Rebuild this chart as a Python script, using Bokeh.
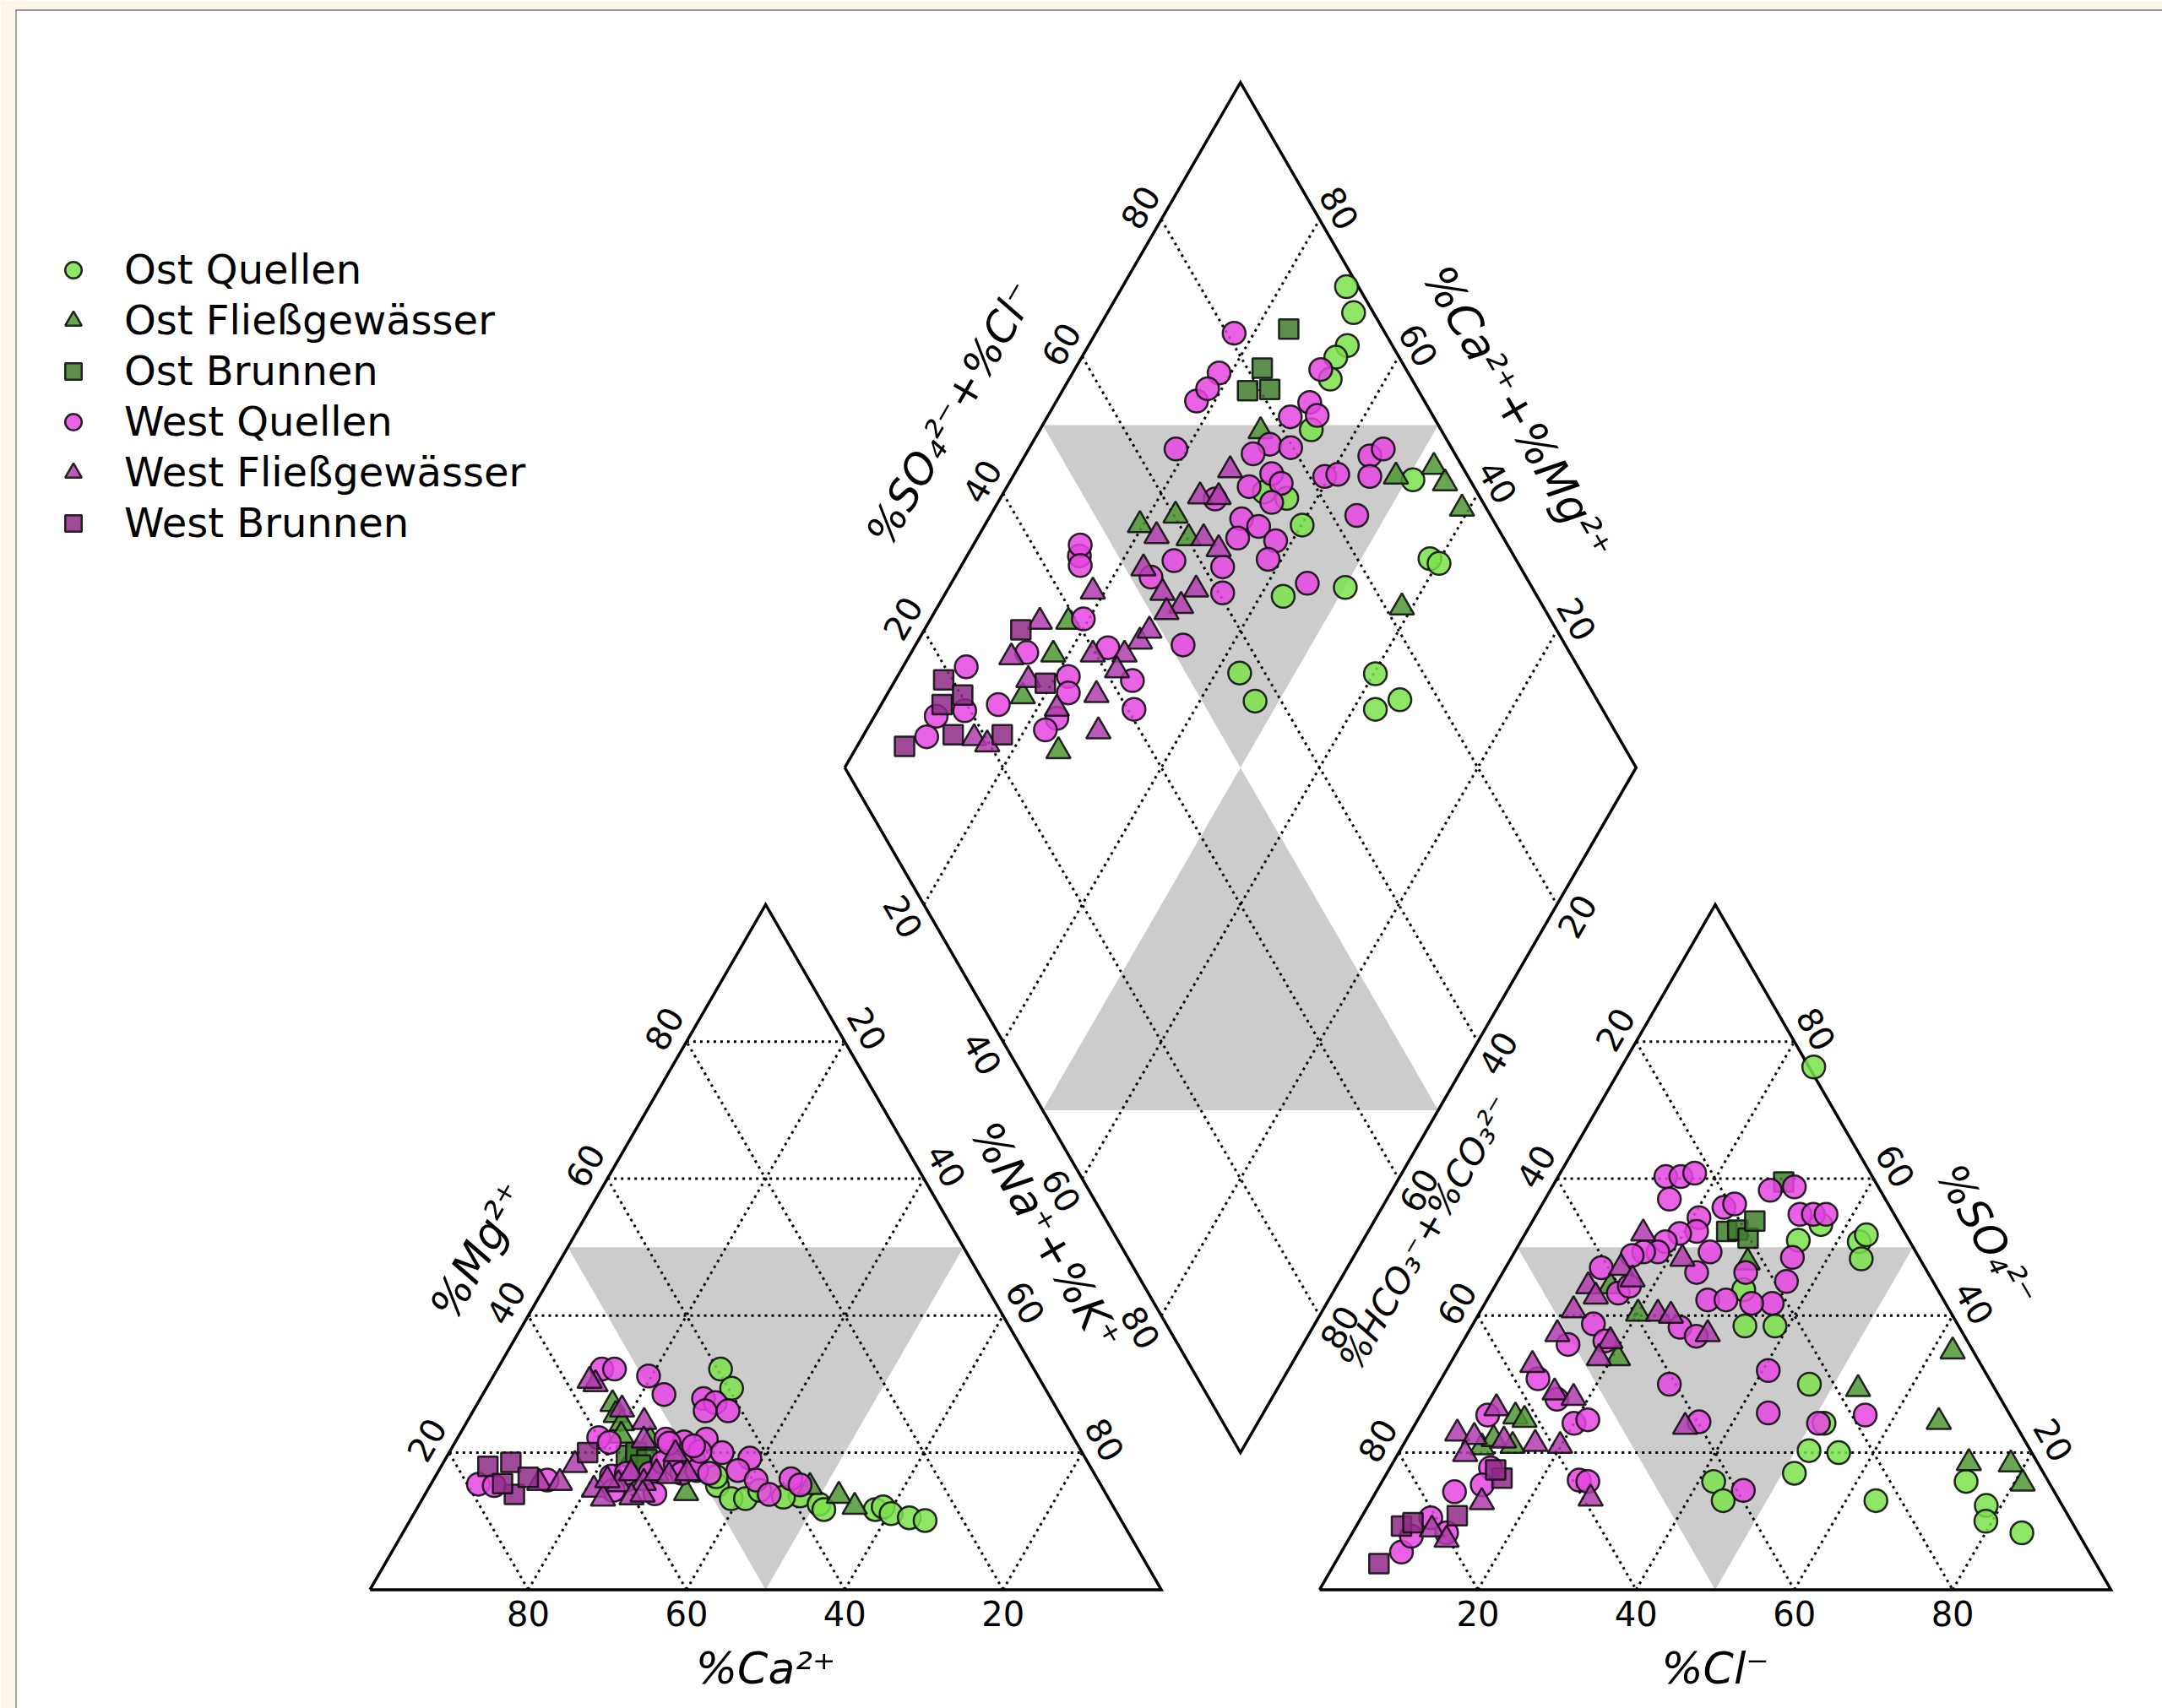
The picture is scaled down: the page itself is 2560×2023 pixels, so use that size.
import numpy as np
from bokeh.plotting import figure
from bokeh.models import Range1d, Legend, LegendItem, Span
from bokeh.embed import file_html
from bokeh.resources import INLINE
from bokeh.core.properties import value

# ---------------------------------------------------------------- data
tick_values = [20, 40, 60, 80]
group_names = ["Ost Quellen", "Ost Fließgewässer", "Ost Brunnen",
               "West Quellen", "West Fließgewässer", "West Brunnen"]

# Cation triangle: %Ca2+, %Mg2+
cat_ca_ost_quellen = [39.6, 39.6, 48.5, 47.7, 45.9, 38.8, 37.0, 36.8, 30.3, 29.1, 28.6, 26.6, 24.8, 43.5, 41.0, 48.0]
cat_mg_ost_quellen = [32.2, 29.4, 15.2, 13.3, 13.3, 13.7, 12.5, 11.7, 11.7, 12.1, 11.1, 10.5, 10.1, 14.5, 13.5, 16.5]
cat_ca_ost_fliess = [55.8, 56.2, 56.0, 57.5, 56.3, 53.7, 53.0, 36.9, 33.9, 32.7, 57.0]
cat_mg_ost_fliess = [27.1, 25.5, 24.3, 19.0, 19.8, 21.8, 14.1, 15.0, 13.7, 12.1, 22.5]
cat_ca_ost_brunnen = [57.8, 56.4, 55.5, 56.7]
cat_mg_ost_brunnen = [19.6, 20.0, 19.0, 18.2]
cat_ca_west_quellen = [78.6, 76.7, 69.6, 54.6, 53.0, 49.2, 48.6, 43.9, 42.7, 44.6, 41.7, 60.0, 51.6, 49.5, 46.5, 45.5,
                       42.4, 44.8, 43.2, 42.6, 38.7, 38.0, 61.2, 59.1, 56.1, 53.7, 52.3, 52.1, 49.6, 50.0, 48.6, 48.2,
                       51.5, 48.6, 59.0, 62.0, 57.0]
cat_mg_west_quellen = [15.4, 15.2, 16.0, 32.2, 32.2, 31.2, 28.5, 27.9, 27.3, 26.1, 26.1, 22.2, 22.0, 21.6, 22.0, 20.0,
                       19.2, 17.4, 16.0, 13.9, 16.2, 15.3, 16.6, 17.0, 17.0, 18.6, 18.2, 17.0, 19.0, 17.4, 17.0, 20.2,
                       21.4, 21.0, 21.5, 14.5, 14.0]
cat_ca_west_fliess = [70.8, 68.2, 65.0, 56.5, 55.0, 53.1, 64.4, 63.9, 60.9, 58.5, 57.6, 55.3, 53.9, 51.5, 51.4, 60.2,
                      58.6, 54.5, 57.0, 62.0]
cat_mg_west_fliess = [15.6, 15.6, 18.2, 30.0, 26.3, 24.5, 14.6, 13.3, 15.4, 17.0, 15.6, 17.0, 16.6, 19.8, 17.0, 13.5,
                      13.9, 21.8, 30.5, 16.0]
cat_ca_west_brunnen = [76.1, 72.9, 74.8, 71.8, 62.5, 75.5]
cat_mg_west_brunnen = [18.0, 18.6, 13.9, 16.4, 20.0, 15.5]

# Anion triangle: %Cl-, %SO4 2-
an_cl_ost_quellen = [24.3, 42.8, 43.2, 44.3, 36.7, 31.7, 34.5, 38.3, 46.9, 51.6, 51.7, 55.6, 51.5, 41.9, 44.5, 63.8,
                     73.8, 78.1, 79.2, 84.6, 35.0]
an_so4_ost_quellen = [76.3, 50.8, 51.8, 48.3, 53.3, 43.8, 38.5, 38.5, 30.0, 24.3, 20.3, 20.0, 17.0, 15.8, 13.0, 13.0,
                      15.8, 12.3, 10.0, 8.3, 51.0]
an_cl_ost_fliess = [14.6, 20.1, 20.8, 12.1, 13.5, 10.1, 13.9, 62.6, 53.4, 66.0, 72.8, 78.2, 81.1, 30.2, 11.0]
an_so4_ost_fliess = [44.3, 40.3, 33.8, 25.3, 24.8, 20.8, 21.0, 34.8, 29.3, 24.5, 18.5, 18.3, 15.5, 47.8, 22.0]
an_cl_ost_brunnen = [25.3, 28.9, 26.6, 28.5, 28.1]
an_so4_ost_brunnen = [52.3, 59.5, 52.5, 51.3, 53.8]
an_cl_west_quellen = [13.6, 15.5, 17.0, 15.7, 23.2, 20.8, 21.5, 24.7, 19.5, 18.3, 18.1, 16.3, 15.1, 24.5, 27.9, 26.4,
                      29.1, 29.2, 35.7, 12.1, 15.2, 17.9, 13.5, 16.1, 17.0, 12.2, 16.1, 20.0, 21.5, 8.5, 12.7, 12.9,
                      9.9, 24.8, 26.0, 8.8, 7.6, 7.7, 11.9, 30.6, 27.8, 33.3, 35.0, 36.6, 35.5, 36.5, 36.3, 33.7,
                      30.2, 40.7, 43.8, 56.2, 50.9, 46.3, 30.7, 24.3]
an_so4_west_quellen = [60.3, 60.3, 60.8, 57.0, 55.8, 54.3, 52.3, 49.3, 52.0, 50.8, 49.3, 49.3, 48.8, 46.3, 42.3, 38.3,
                       37.0, 30.0, 24.5, 47.0, 38.8, 36.3, 35.8, 43.3, 44.3, 30.8, 27.8, 24.3, 24.8, 25.5, 17.8, 15.3,
                       14.3, 16.0, 15.8, 10.5, 5.5, 7.8, 8.3, 58.8, 58.3, 54.8, 54.8, 54.8, 48.5, 45.0, 41.8, 41.8,
                       42.3, 32.0, 25.8, 25.5, 24.3, 14.5, 46.3, 56.3]
an_cl_west_fliess = [14.9, 14.6, 11.8, 13.5, 16.9, 22.6, 24.4, 21.7, 11.7, 11.4, 18.6, 18.4, 10.5, 15.3, 18.1, 9.1,
                     6.0, 8.4, 12.4, 16.6, 19.9, 8.5, 14.1, 9.8, 12.4, 27.6, 34.3, 30.4]
an_so4_west_fliess = [52.0, 47.0, 44.3, 42.8, 45.3, 40.3, 40.0, 48.3, 40.8, 37.3, 36.3, 33.8, 32.8, 28.8, 28.0, 26.5,
                      22.8, 22.3, 21.8, 21.3, 21.0, 19.8, 12.8, 8.8, 7.3, 13.3, 23.8, 37.3]
an_cl_west_brunnen = [5.6, 5.7, 6.9, 12.0, 14.9, 13.5]
an_so4_west_brunnen = [3.8, 9.3, 9.8, 10.8, 16.3, 17.5]

# Diamond: %Na+ + %K+, %SO4 2- + %Cl-
dia_nak_ost_quellen = [28.3, 31.1, 32.7, 32.1, 33.0, 34.3, 50.8, 58.7, 60.2, 50.1, 42.9, 40.1, 36.2, 43.0, 47.0, 60.2,
                       62.8, 65.2, 32.9]
dia_sc_ost_quellen = [98.5, 97.5, 94.3, 92.0, 89.7, 83.6, 92.8, 89.2, 90.0, 76.4, 67.9, 75.5, 75.5, 56.8, 56.7, 73.9,
                      71.3, 75.1, 73.1]
dia_nak_ost_fliess = [28.0, 48.4, 52.5, 55.1, 59.1, 58.7, 19.6, 23.4, 26.7, 17.6, 18.1, 17.3, 25.8]
dia_sc_ost_fliess = [77.1, 90.9, 96.4, 96.6, 96.9, 82.1, 55.0, 60.2, 60.2, 38.9, 34.6, 27.7, 28.2]
dia_nak_ost_brunnen = [24.1, 23.6, 23.4, 26.1]
dia_sc_ost_brunnen = [88.1, 81.9, 78.4, 81.3]
dia_nak_west_quellen = [17.5, 18.5, 17.7, 18.2, 18.6, 32.1, 34.0, 30.7, 31.1, 30.1, 33.0, 28.7, 32.5, 34.4, 30.6, 34.6,
                        32.0, 34.7, 32.9, 37.9, 38.3, 33.1, 35.0, 26.5, 27.2, 39.4, 40.9, 43.6, 44.8, 45.1, 46.3, 45.0,
                        33.8, 14.2, 13.5, 15.0, 19.3, 14.6, 21.6, 22.8, 14.8, 8.0, 7.8, 8.1, 11.0, 30.0, 32.3, 24.5,
                        23.2, 22.6, 24.8]
dia_sc_west_quellen = [80.9, 76.1, 71.2, 73.5, 65.1, 85.4, 85.4, 81.9, 89.2, 77.3, 79.7, 74.5, 75.4, 75.9, 71.6, 73.3,
                       68.3, 69.9, 66.4, 71.0, 68.7, 62.4, 60.5, 56.7, 66.4, 81.9, 83.7, 89.1, 91.3, 87.6, 83.1, 71.9,
                       51.7, 45.1, 46.0, 44.5, 41.0, 31.4, 34.9, 33.7, 24.0, 22.7, 15.3, 12.6, 19.3, 42.7, 40.8, 42.0,
                       30.4, 28.1, 52.6]
dia_nak_west_fliess = [27.0, 25.1, 27.5, 22.5, 28.6, 31.3, 23.2, 27.4, 30.7, 31.4, 29.3, 28.1, 28.5, 27.1, 18.5, 14.0,
                       13.0, 16.8, 23.1, 26.5, 29.4, 22.5, 14.2, 16.3, 27.3]
dia_sc_west_fliess = [70.4, 64.7, 67.0, 56.3, 62.1, 63.2, 52.3, 52.9, 54.3, 57.4, 52.0, 46.5, 48.5, 43.6, 44.2, 35.3,
                      29.1, 29.6, 39.6, 37.1, 34.7, 31.1, 18.5, 19.7, 41.5]
dia_nak_west_brunnen = [12.2, 6.1, 9.6, 7.7, 11.3, 17.5, 19.2, 6.0]
dia_sc_west_brunnen = [32.3, 18.9, 20.2, 16.9, 16.1, 22.3, 31.5, 9.1]

# ---------------------------------------------------------------- geometry
H = np.sqrt(3) / 2


def cat_xy(ca, mg):
    ca = np.asarray(ca, dtype=float) / 100.0
    mg = np.asarray(mg, dtype=float) / 100.0
    return 1.0 - ca - mg / 2.0, mg * H


def an_xy(cl, so4):
    cl = np.asarray(cl, dtype=float) / 100.0
    so4 = np.asarray(so4, dtype=float) / 100.0
    return 1.2 + cl + so4 / 2.0, so4 * H


def dia_xy(nak, sc):
    a = np.asarray(nak, dtype=float) / 100.0
    b = np.asarray(sc, dtype=float) / 100.0
    return 0.6 + 0.5 * (a + b), 1.2 * H + H * (b - a)


# ---------------------------------------------------------------- figure
W, HGT = 2560, 2023
X0, X1, Y0, Y1 = -0.44781, 2.26510, -0.15005, 1.99723
p = figure(width=W, height=HGT, output_backend="svg", toolbar_location=None,
           x_axis_location=None, y_axis_location=None,
           x_range=Range1d(X0, X1), y_range=Range1d(Y0, Y1),
           min_border_left=18, min_border_top=11, min_border_right=0, min_border_bottom=0)
p.grid.visible = False
p.background_fill_color = "white"
p.border_fill_color = "#fdf6e8"
p.outline_line_color = None
p.add_layout(Span(location=X0, dimension="height", line_color="#555555", line_width=2))
p.add_layout(Span(location=Y1, dimension="width", line_color="#333333", line_width=2))

GREY = "#cccccc"

# shaded regions
shade_polys = []
x, y = cat_xy([50, 0, 50], [50, 50, 0]); shade_polys.append((x, y))
x, y = an_xy([0, 50, 50], [50, 50, 0]); shade_polys.append((x, y))
x, y = dia_xy([0, 50, 50], [50, 100, 50]); shade_polys.append((x, y))
x, y = dia_xy([50, 50, 100], [50, 0, 50]); shade_polys.append((x, y))
p.patches([list(s[0]) for s in shade_polys], [list(s[1]) for s in shade_polys],
          fill_color=GREY, line_color=None)

# grid lines
gx, gy = [], []
for v in tick_values:
    for fx, fy in [cat_xy([100 - v, 0], [v, v]), cat_xy([v, v], [0, 100 - v]), cat_xy([100 - v, 0], [0, 100 - v]),
                   an_xy([0, 100 - v], [v, v]), an_xy([v, v], [0, 100 - v]), an_xy([0, 100 - v], [100 - v, 0]),
                   dia_xy([v, v], [0, 100]), dia_xy([0, 100], [v, v])]:
        gx.append(list(fx)); gy.append(list(fy))
p.multi_line(gx, gy, line_color="black", line_width=3, line_dash="3 5")

# outlines
ox, oy = [], []
for fx, fy in [cat_xy([100, 0, 0, 100], [0, 0, 100, 0]), an_xy([0, 100, 0, 0], [0, 0, 100, 0]),
               dia_xy([0, 100, 100, 0, 0], [0, 0, 100, 100, 0])]:
    ox.append(list(fx)); oy.append(list(fy))
p.multi_line(ox, oy, line_color="black", line_width=3.5, line_join="miter")

# points
styles = [
    ("circle", "#7be04a", 27),
    ("triangle", "#4f9634", 29),
    ("square", "#3f7d2d", 23),
    ("circle", "#e545e0", 27),
    ("triangle", "#b23cae", 29),
    ("square", "#8e2a87", 23),
]
cat_data = [(cat_ca_ost_quellen, cat_mg_ost_quellen), (cat_ca_ost_fliess, cat_mg_ost_fliess),
            (cat_ca_ost_brunnen, cat_mg_ost_brunnen), (cat_ca_west_quellen, cat_mg_west_quellen),
            (cat_ca_west_fliess, cat_mg_west_fliess), (cat_ca_west_brunnen, cat_mg_west_brunnen)]
an_data = [(an_cl_ost_quellen, an_so4_ost_quellen), (an_cl_ost_fliess, an_so4_ost_fliess),
           (an_cl_ost_brunnen, an_so4_ost_brunnen), (an_cl_west_quellen, an_so4_west_quellen),
           (an_cl_west_fliess, an_so4_west_fliess), (an_cl_west_brunnen, an_so4_west_brunnen)]
dia_data = [(dia_nak_ost_quellen, dia_sc_ost_quellen), (dia_nak_ost_fliess, dia_sc_ost_fliess),
            (dia_nak_ost_brunnen, dia_sc_ost_brunnen), (dia_nak_west_quellen, dia_sc_west_quellen),
            (dia_nak_west_fliess, dia_sc_west_fliess), (dia_nak_west_brunnen, dia_sc_west_brunnen)]

renderers = []
for i, (marker, color, size) in enumerate(styles):
    cx, cy = cat_xy(*cat_data[i])
    axx, ayy = an_xy(*an_data[i])
    dx, dy = dia_xy(*dia_data[i])
    xs = list(cx) + list(axx) + list(dx)
    ys = list(cy) + list(ayy) + list(dy)
    r = p.scatter(xs, ys, marker=marker, size=size, fill_color=color, fill_alpha=0.85,
                  line_color="#111111", line_alpha=0.9, line_width=2.5)
    renderers.append(r)

# ---------------------------------------------------------------- text
N_LEFT = (-H, 0.5)
N_RIGHT = (H, 0.5)
N_LL = (-H, -0.5)
N_LR = (H, -0.5)
A60 = np.pi / 3

tx, ty, tt, ta = [], [], [], []


def add_ticks(xy, normal, off, angle, labels):
    px, py = xy
    for xx, yy, lab in zip(px, py, labels):
        tx.append(xx + off * normal[0]); ty.append(yy + off * normal[1])
        tt.append(str(lab)); ta.append(angle)


tv = np.array(tick_values)
add_ticks(cat_xy(tv, 0 * tv), (0, -1), 0.0296, 0.0, tick_values)
add_ticks(an_xy(tv, 0 * tv), (0, -1), 0.0296, 0.0, tick_values)
add_ticks(cat_xy(100 - tv, tv), N_LEFT, 0.033, A60, tick_values)
add_ticks(cat_xy(0 * tv, 100 - tv), N_RIGHT, 0.033, -A60, tick_values)
add_ticks(an_xy(0 * tv, 100 - tv), N_LEFT, 0.031, A60, tick_values)
add_ticks(an_xy(100 - tv, tv), N_RIGHT, 0.032, -A60, tick_values)
add_ticks(dia_xy(0 * tv, tv), N_LEFT, 0.031, A60, tick_values)
add_ticks(dia_xy(100 - tv, 0 * tv + 100), N_RIGHT, 0.029, -A60, tick_values)
add_ticks(dia_xy(tv, 0 * tv), N_LL, 0.030, -A60, tick_values)
add_ticks(dia_xy(0 * tv + 100, 100 - tv), N_LR, 0.029, A60, tick_values)

p.text(tx, ty, text=tt, angle=ta, text_font=value("DejaVu Sans"), text_font_size="40px",
       text_align="center", text_baseline="middle", text_color="black")

# axis titles
lx, ly, lt, la, ls = [], [], [], [], []


def add_title(xy, normal, off, angle, label, size="50px"):
    xx, yy = xy
    lx.append(float(xx) + off * normal[0]); ly.append(float(yy) + off * normal[1])
    lt.append(label); la.append(angle); ls.append(size)


add_title(cat_xy(50, 0), (0, -1), 0.0993, 0.0, "%Ca²⁺", "52px")
add_title(an_xy(50, 0), (0, -1), 0.0993, 0.0, "%Cl⁻", "52px")
add_title(cat_xy(56, 44), N_LEFT, 0.095, A60, "%Mg²⁺", "52px")
add_title(cat_xy(0, 46), N_RIGHT, 0.098, -A60, "%Na⁺+%K⁺", "52px")
add_title(dia_xy(0, 45.5), N_LEFT, 0.107, A60, "%SO₄²⁻+%Cl⁻")
add_title(dia_xy(53.7, 100), N_RIGHT, 0.095, -A60, "%Ca²⁺+%Mg²⁺", "53px")
add_title(an_xy(0, 45.8), N_LEFT, 0.1095, A60, "%HCO₃⁻+%CO₃²⁻", "42px")
add_title(an_xy(53.4, 46.6), N_RIGHT, 0.088, -A60, "%SO₄²⁻")

p.text(lx, ly, text=lt, angle=la, text_font=value("DejaVu Sans"), text_font_size=ls,
       text_font_style="italic", text_align="center", text_baseline="middle", text_color="black")

# ---------------------------------------------------------------- legend
legend = Legend(items=[LegendItem(label=n, renderers=[r]) for n, r in zip(group_names, renderers)],
                location=(44, 1376), orientation="vertical",
                glyph_width=49, glyph_height=49, label_standoff=36, spacing=4,
                padding=0, margin=0, border_line_color=None, background_fill_alpha=0.0,
                label_text_font="DejaVu Sans", label_text_font_size="48px", label_text_color="black")
p.add_layout(legend)

open("out.html", "w").write(file_html(p, INLINE))
